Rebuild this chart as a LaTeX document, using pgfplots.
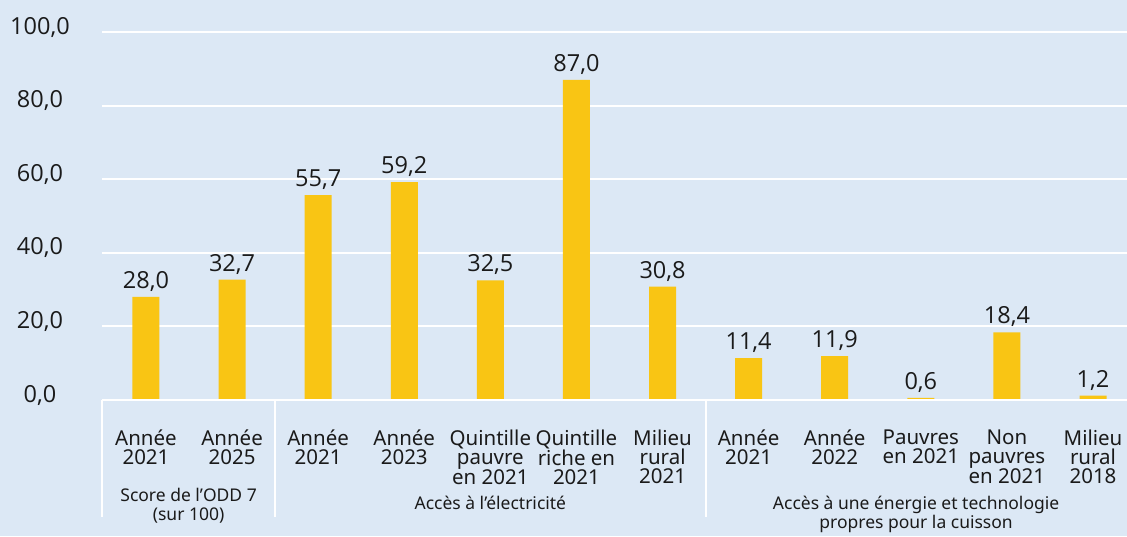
\documentclass[border=0pt]{standalone}
\usepackage{pgfplots}
\pgfplotsset{compat=1.18}
\usepackage{fontspec}
\setmainfont{Noto Sans}
\newfontfamily\numfont{Open Sans}
\definecolor{bgblue}{RGB}{220,232,245}
\definecolor{baryellow}{RGB}{249,197,20}
\definecolor{txt}{RGB}{26,26,26}
\begin{document}
\begin{tikzpicture}
\useasboundingbox (-102pt,-136pt) rectangle (1025pt,400pt);
\fill[bgblue] (-102pt,-136pt) rectangle (1025pt,400pt);
\begin{axis}[
  at={(0,0)}, anchor=south west,
  scale only axis, width=1025pt, height=368pt,
  xmin=-0.511, xmax=11.395, ymin=0, ymax=100,
  axis line style={draw=none},
  tick style={draw=none},
  ymajorgrids, grid style={white, line width=2pt},
  ytick={0,20,40,60,80,100},
  /pgf/number format/assume math mode=true,
  yticklabel={\numfont\pgfmathprintnumber[fixed,fixed zerofill,precision=1,use comma]{\tick}},
  yticklabel style={anchor=base, inner sep=0pt, xshift=-62pt, yshift=-2pt, font=\fontsize{23.5}{24}\selectfont, text=txt},
  xtick={0,1,2,3,4,5,6,7,8,9,10,11},
  xticklabels={{Année\\2021},{Année\\2025},{Année\\2021},{Année\\2023},{Quintille\\pauvre\\en 2021},{Quintille\\riche en\\2021},{Milieu\\rural\\2021},{Année\\2021},{Année\\2022},{Pauvres\\en 2021},{Non\\pauvres\\en 2021},{Milieu\\rural\\2018}},
  xticklabel style={anchor=north, align=center, inner sep=0pt, yshift=-25pt, font=\fontsize{20.5}{19}\selectfont, text=txt},
  ybar, bar width=27pt,
  nodes near coords={\numfont\pgfmathprintnumber[fixed,fixed zerofill,precision=1,use comma]{\pgfplotspointmeta}},
  every node near coord/.append style={anchor=base, inner sep=0pt, yshift=8.5pt, font=\fontsize{23.5}{24}\selectfont, text=txt},
  clip=false,
]
\addplot[fill=baryellow, draw=none] coordinates {(0,28.0) (1,32.7) (2,55.7) (3,59.2) (4,32.5) (5,87.0) (6,30.8) (7,11.4) (8,11.9) (9,0.6) (10,18.4) (11,1.2)};
\draw[white, line width=2pt] (axis cs:-0.511,0) -- (axis cs:11.395,0);
\draw[white, line width=2pt] (axis cs:-0.511,0) -- ++(0pt,-117pt);
\draw[white, line width=2pt] (axis cs:1.5,0) -- ++(0pt,-117pt);
\draw[white, line width=2pt] (axis cs:6.5,0) -- ++(0pt,-117pt);
\begin{scope}[every node/.style={anchor=base, inner sep=0pt, font=\fontsize{17.5}{19}\selectfont, text=txt}]
\node at ([yshift=-101pt]axis cs:0.495,0) {Score de l’ODD 7};
\node at ([yshift=-120pt]axis cs:0.495,0) {(sur 100)};
\node at ([yshift=-109pt]axis cs:4,0) {Accès à l’électricité};
\node at ([yshift=-109pt]axis cs:8.945,0) {Accès à une énergie et technologie};
\node at ([yshift=-128pt]axis cs:8.945,0) {propres pour la cuisson};
\end{scope}
\end{axis}
\end{tikzpicture}
\end{document}
